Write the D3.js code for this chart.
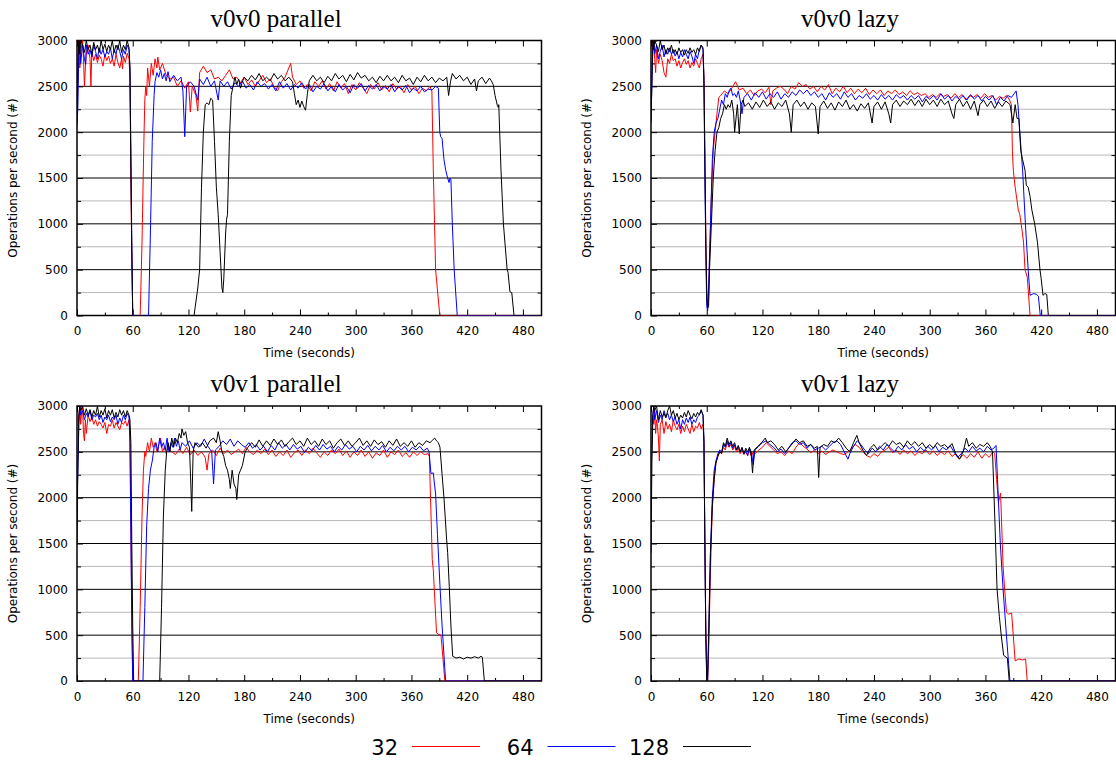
<!DOCTYPE html>
<html>
<head>
<meta charset="utf-8">
<script src="https://cdn.jsdelivr.net/npm/d3@7"></script>
<style>
  body { margin: 0; background: #fff; }
  svg { display: block; }
</style>
</head>
<body>
<svg width="1116" height="762"></svg>
<script>
// series values: [time (s), operations per second]
const p1_32 = [[0,2050],[1,2650],[2,3000],[3,2700],[4,2850],[5,2950],[6,3000],[7,2800],[8,2500],[9,2700],[10,2850],[12,2950],[14,2800],[15,2500],[16,2880],[18,2780],[20,2850],[22,2760],[24,2840],[26,2800],[28,2720],[30,2850],[32,2780],[34,2830],[36,2750],[38,2800],[40,2720],[42,2850],[44,2760],[46,2700],[48,2800],[49,2690],[50,2830],[52,2760],[54,2860],[56,2800],[57,2600],[58,1500],[59,600],[60,0],[68,0],[70,800],[72,1900],[73,2350],[74,2500],[75,2400],[76,2700],[78,2500],[80,2750],[82,2620],[84,2800],[86,2700],[87,2820],[89,2680],[92,2750],[96,2620],[100,2580],[104,2600],[108,2500],[112,2560],[116,2480],[120,2550],[122,2220],[124,2500],[128,2400],[130,2230],[132,2650],[136,2720],[140,2650],[144,2680],[148,2580],[152,2600],[156,2560],[160,2620],[164,2680],[168,2580],[172,2600],[176,2540],[180,2600],[184,2520],[188,2570],[192,2500],[196,2560],[200,2620],[204,2540],[208,2580],[212,2500],[216,2450],[220,2550],[224,2600],[228,2700],[230,2750],[232,2600],[236,2520],[240,2560],[244,2480],[248,2520],[252,2450],[256,2550],[260,2500],[264,2560],[268,2470],[272,2530],[276,2450],[280,2550],[284,2480],[288,2530],[292,2420],[296,2520],[300,2460],[304,2540],[308,2480],[312,2420],[316,2520],[320,2470],[324,2540],[328,2460],[332,2510],[336,2440],[340,2530],[344,2470],[348,2500],[352,2430],[356,2520],[360,2460],[364,2500],[368,2420],[372,2480],[376,2450],[380,2500],[382,2450],[383.5,1600],[386,500],[390.5,0],[500,0]];
const p1_64 = [[0,2050],[1,2300],[2,2900],[3,3000],[4,2750],[6,2950],[8,2800],[9.3,2740],[10,2950],[12,2850],[14,2900],[16,2820],[18,2950],[20,2880],[22,2800],[24,2920],[26,2850],[28,2900],[30,2820],[32,2880],[34,2850],[36,2920],[38,2800],[40,2900],[42,2850],[44,2950],[46,2880],[48,2800],[50,2900],[52,2850],[54,2950],[56,2900],[57,2700],[58,1800],[59,800],[60,0],[77,0],[79,900],[81,1900],[83,2400],[84,2550],[86,2650],[88,2600],[90,2680],[92,2580],[94,2640],[96,2560],[98,2660],[100,2550],[104,2620],[108,2560],[112,2600],[114,2450],[116,1950],[118,2500],[122,2550],[126,2500],[130,2350],[132,2580],[136,2520],[140,2600],[144,2500],[148,2560],[152,2350],[154,2560],[158,2500],[162,2550],[166,2470],[170,2540],[174,2500],[178,2560],[182,2480],[186,2520],[190,2460],[194,2550],[198,2500],[202,2530],[206,2470],[210,2520],[214,2450],[218,2550],[222,2480],[226,2530],[230,2460],[234,2520],[238,2480],[242,2540],[246,2470],[250,2520],[254,2440],[258,2500],[262,2470],[266,2530],[270,2450],[274,2500],[278,2440],[282,2520],[286,2460],[290,2500],[294,2430],[298,2520],[302,2480],[306,2530],[310,2450],[314,2510],[318,2470],[322,2520],[326,2450],[330,2500],[334,2470],[338,2520],[342,2440],[346,2500],[350,2460],[354,2510],[358,2430],[362,2480],[366,2450],[370,2500],[374,2440],[378,2470],[382,2460],[386,2500],[389,2480],[390.5,2000],[391.5,1950],[393,1930],[395,1700],[397,1580],[399,1500],[400.5,1450],[401.5,1500],[402.5,1480],[404,1000],[406,500],[409.3,0],[500,0]];
const p1_128 = [[0,2100],[1,2800],[2,3000],[3,2850],[4,3000],[6,2950],[8,2870],[10,3000],[12,2900],[14,2950],[16,2850],[18,2980],[20,2900],[22,2950],[24,2870],[26,3000],[28,2900],[30,2960],[32,2880],[34,2950],[36,2900],[38,3000],[40,2870],[42,2950],[44,2900],[46,3000],[48,2870],[50,2950],[52,2900],[54,3000],[56,2920],[57,2700],[58,1600],[59,700],[60,0],[126,0],[130,300],[132,500],[134,1400],[136,2000],[138,2300],[140,2320],[142,2300],[144,2370],[146,2350],[148,1900],[150,1400],[152,1100],[154,700],[156,300],[157,250],[158,400],[160,900],[161,1050],[162,1100],[164,1900],[166,2400],[168,2500],[170,2600],[172,2520],[174,2580],[176,2480],[178,2550],[180,2600],[184,2560],[188,2620],[192,2570],[196,2640],[200,2560],[204,2600],[208,2560],[212,2640],[216,2580],[220,2620],[224,2560],[228,2600],[232,2550],[234,2420],[236,2300],[238,2350],[240,2270],[242,2340],[244,2280],[246,2240],[248,2420],[250,2560],[254,2620],[258,2560],[262,2600],[266,2540],[270,2610],[274,2560],[278,2640],[282,2580],[286,2620],[290,2550],[294,2630],[298,2570],[302,2650],[306,2590],[310,2620],[314,2560],[318,2600],[322,2540],[326,2610],[330,2560],[334,2620],[338,2560],[342,2600],[346,2540],[350,2620],[354,2560],[358,2590],[362,2520],[366,2600],[370,2550],[374,2620],[378,2560],[382,2600],[386,2540],[390,2590],[394,2560],[398,2600],[400,2400],[402,2550],[404,2640],[408,2580],[412,2620],[416,2560],[420,2600],[424,2520],[428,2580],[430,2450],[432,2560],[436,2600],[440,2530],[444,2590],[446,2560],[448,2520],[450,2400],[452.5,2290],[453.5,2270],[454,2300],[456.4,1585],[459,1000],[463,500],[464,470],[466,260],[468,250],[470.4,0],[500,0]];

const p2_32 = [[0,2300],[1,2700],[2,3000],[3,2950],[4,2800],[5,2650],[6,2900],[8,2750],[10,2850],[12,2780],[14,2650],[16,2600],[18,2800],[20,2750],[22,2850],[24,2780],[26,2800],[28,2720],[30,2780],[32,2700],[34,2760],[36,2800],[38,2740],[40,2780],[42,2700],[44,2760],[46,2720],[48,2800],[50,2750],[52,2700],[54,2800],[56,2850],[57,2600],[58,1800],[59,900],[60,300],[61,100],[62,200],[63,600],[65,1300],[67,1800],[69,2000],[71,2200],[73,2380],[75,2400],[79,2450],[83,2420],[87,2480],[91,2550],[95,2460],[99,2480],[103,2420],[107,2460],[111,2400],[115,2450],[119,2470],[123,2430],[127,2490],[129,2300],[131,2450],[135,2480],[139,2500],[143,2470],[147,2420],[151,2500],[155,2470],[159,2540],[163,2500],[167,2520],[171,2470],[175,2500],[179,2440],[183,2500],[187,2460],[191,2520],[195,2420],[199,2480],[203,2440],[207,2500],[211,2430],[215,2480],[219,2420],[223,2470],[227,2430],[231,2480],[235,2410],[239,2460],[243,2420],[247,2460],[251,2400],[255,2450],[259,2420],[263,2460],[267,2410],[271,2440],[275,2400],[279,2450],[283,2410],[287,2430],[291,2400],[295,2420],[299,2380],[303,2410],[307,2380],[311,2420],[315,2390],[319,2410],[323,2370],[327,2420],[331,2380],[335,2410],[339,2350],[343,2400],[347,2380],[351,2410],[355,2370],[359,2420],[363,2380],[367,2400],[371,2350],[375,2390],[379,2370],[383,2400],[386,2350],[388,2300],[389,1800],[390,1585],[392,1400],[395.4,1150],[397,1100],[399.4,930],[401,800],[402.6,500],[405,420],[408,0],[500,0]];
const p2_64 = [[0,2150],[1,2500],[2,2900],[3,3000],[4,2850],[6,2950],[8,2800],[10,2880],[12,2950],[14,2820],[16,2900],[18,2850],[20,2920],[22,2850],[24,2900],[26,2830],[28,2880],[30,2800],[32,2870],[34,2820],[36,2900],[38,2850],[40,2800],[42,2880],[44,2830],[46,2750],[48,2850],[50,2800],[52,2900],[54,2950],[56,2900],[57,2500],[58,1500],[59,700],[60,100],[61,50],[62,300],[64,1000],[66,1700],[68,2000],[70,2100],[72,2150],[74,2250],[76,2350],[78,2300],[80,2420],[82,2380],[84,2450],[86,2480],[88,2400],[90,2420],[92,2380],[94,2450],[96,2350],[98,2200],[100,2380],[104,2420],[108,2350],[112,2430],[116,2380],[120,2440],[124,2360],[128,2420],[132,2380],[136,2440],[140,2360],[144,2420],[148,2380],[152,2440],[156,2400],[160,2460],[164,2420],[168,2460],[172,2400],[176,2440],[180,2380],[184,2420],[188,2350],[192,2430],[196,2380],[200,2420],[204,2360],[208,2440],[212,2380],[216,2420],[220,2350],[224,2400],[228,2370],[232,2420],[236,2360],[240,2400],[244,2350],[248,2410],[252,2360],[256,2400],[260,2350],[264,2410],[268,2370],[272,2400],[276,2350],[280,2400],[284,2360],[288,2400],[292,2330],[296,2390],[300,2360],[304,2400],[308,2350],[312,2420],[316,2360],[320,2400],[324,2340],[328,2390],[332,2360],[336,2400],[340,2350],[344,2410],[348,2360],[352,2400],[356,2340],[360,2390],[364,2350],[368,2400],[372,2300],[376,2380],[380,2340],[384,2400],[388,2380],[391,2420],[393,2450],[395,2300],[397,2000],[400,1585],[403,1000],[406,500],[408,220],[412,240],[415,230],[417,210],[419,0],[500,0]];
const p2_128 = [[0,2100],[1,2600],[2,3000],[3,2900],[4,3000],[6,2950],[8,2880],[10,3000],[12,2900],[14,2950],[16,2850],[18,2920],[20,2880],[22,2950],[24,2860],[26,2900],[28,2850],[30,2920],[32,2870],[34,2900],[36,2840],[38,2900],[40,2860],[42,2920],[44,2870],[46,2900],[48,2850],[50,2920],[52,2880],[54,2950],[56,2920],[57,2600],[58,1700],[59,800],[60,200],[61,80],[62,100],[63,500],[65,1000],[67,1500],[69,1800],[71,2000],[73,2050],[75,2150],[77,2200],[79,2300],[81,2250],[83,2300],[85,2270],[87,2350],[89,2200],[90,2000],[91,2100],[93,2300],[95,1980],[97,2300],[99,2350],[101,2280],[105,2320],[109,2250],[113,2330],[117,2270],[121,2350],[125,2280],[129,2330],[133,2250],[137,2320],[141,2280],[145,2350],[149,2200],[151,2000],[153,2300],[157,2350],[161,2280],[165,2330],[169,2250],[173,2320],[177,2280],[180,1980],[182,2280],[186,2340],[190,2260],[194,2320],[198,2240],[202,2330],[206,2280],[210,2350],[214,2250],[218,2300],[222,2230],[226,2310],[230,2260],[234,2320],[238,2100],[240,2280],[244,2330],[248,2250],[252,2330],[256,2200],[258,2100],[260,2300],[264,2350],[268,2280],[272,2340],[276,2300],[280,2360],[284,2290],[288,2350],[292,2280],[296,2360],[300,2300],[304,2350],[308,2280],[312,2360],[316,2300],[320,2340],[324,2200],[326,2150],[328,2300],[332,2360],[336,2280],[340,2340],[344,2250],[348,2340],[352,2180],[354,2300],[358,2350],[362,2280],[366,2340],[370,2260],[374,2330],[378,2280],[382,2340],[386.5,2300],[389.5,2100],[392,2300],[394,2150],[396,2150],[398,1800],[400,1700],[402.6,1585],[404,1420],[406,1400],[408,1300],[410,1150],[413,1000],[416,800],[418.7,500],[420,400],[422,220],[424,240],[426,230],[427.7,0],[500,0]];

const p3_32 = [[0,2000],[1,2700],[2,2900],[3,3000],[4,2800],[5,2950],[6,3000],[7,2700],[8,2620],[9,2850],[10,2700],[12,2900],[14,2830],[16,2880],[18,2800],[20,2850],[22,2780],[24,2830],[26,2800],[28,2760],[30,2820],[32,2700],[34,2800],[36,2780],[38,2850],[40,2760],[42,2820],[44,2780],[46,2740],[48,2820],[50,2800],[52,2840],[54,2780],[56,2850],[57,2700],[58,1700],[59,700],[60,0],[66,0],[68,800],[70,1800],[71.5,2300],[73,2500],[74,2450],[76,2600],[78,2500],[80,2650],[82,2550],[84,2600],[86,2500],[88,2580],[90,2650],[92,2500],[94,2550],[96,2480],[98,2550],[102,2500],[106,2470],[110,2530],[114,2480],[118,2550],[122,2470],[126,2520],[130,2460],[134,2500],[138,2440],[140,2300],[142,2480],[146,2520],[150,2460],[154,2540],[158,2480],[162,2520],[166,2470],[170,2500],[174,2530],[178,2480],[182,2550],[186,2500],[190,2470],[194,2520],[198,2480],[202,2530],[206,2470],[210,2520],[214,2450],[218,2500],[222,2460],[226,2520],[230,2440],[234,2490],[238,2520],[242,2460],[246,2520],[250,2480],[254,2540],[258,2490],[262,2440],[266,2500],[270,2460],[274,2520],[278,2480],[282,2530],[286,2460],[290,2510],[294,2440],[298,2500],[302,2460],[306,2520],[310,2450],[314,2500],[318,2430],[322,2490],[326,2460],[330,2520],[334,2440],[338,2500],[342,2470],[346,2520],[350,2450],[354,2490],[358,2440],[362,2500],[366,2460],[370,2500],[374,2470],[378,2480],[379.3,2450],[382.4,1325],[383.5,1216],[387,526],[389,510],[391.8,500],[396,0],[500,0]];
const p3_64 = [[0,2000],[1,2300],[2,2800],[3,3000],[4,2900],[6,2950],[8,2850],[10,2920],[12,2880],[14,2950],[16,2850],[18,2900],[20,2880],[22,2920],[24,2850],[26,2900],[28,2820],[30,2880],[32,2850],[34,2900],[36,2830],[38,2880],[40,2850],[42,2900],[44,2800],[46,2870],[48,2820],[50,2900],[52,2850],[54,2920],[56,2880],[57,2600],[58,1600],[59,600],[60,0],[71,0],[73,800],[75,1700],[77,2100],[79,2300],[81,2400],[83,2550],[85,2600],[87,2500],[89,2650],[91,2550],[93,2600],[95,2520],[97,2650],[99,2500],[101,2600],[103,2550],[105,2650],[107,2560],[109,2620],[111,2520],[113,2600],[117,2560],[121,2620],[125,2540],[129,2600],[133,2560],[137,2640],[141,2560],[145,2500],[147,2150],[149,2520],[153,2560],[157,2620],[161,2580],[165,2640],[169,2560],[173,2620],[177,2580],[181,2550],[185,2600],[189,2540],[193,2580],[197,2520],[201,2560],[205,2500],[209,2570],[213,2520],[217,2600],[221,2540],[225,2580],[229,2520],[233,2580],[237,2530],[241,2560],[245,2490],[249,2550],[253,2510],[257,2570],[261,2520],[265,2580],[269,2530],[273,2560],[277,2500],[281,2560],[285,2520],[289,2580],[293,2530],[297,2560],[301,2500],[305,2560],[309,2520],[313,2570],[317,2510],[321,2560],[325,2520],[329,2570],[333,2500],[337,2550],[341,2510],[345,2560],[349,2520],[353,2560],[357,2500],[361,2550],[365,2520],[369,2560],[373,2510],[377,2540],[379,2500],[381,2264],[383.5,2270],[386,2040],[388,1600],[390.7,1040],[393,600],[396.8,0],[500,0]];
const p3_128 = [[0,1500],[1,2400],[2,2900],[3,3000],[4,2950],[6,3000],[8,2900],[10,2970],[12,2900],[14,2960],[16,2880],[18,2950],[20,2900],[22,3000],[24,2880],[26,2950],[28,2900],[30,2970],[32,2870],[34,2950],[36,2900],[38,2960],[40,2870],[42,2930],[44,2880],[46,2960],[48,2900],[50,2950],[52,2880],[54,2950],[56,2900],[57,2850],[58,2600],[59,1500],[60,600],[61,0],[89,0],[91,800],[93,1800],[95,2300],[96.5,2500],[98,2600],[100,2500],[102,2650],[104,2550],[106,2650],[108,2600],[110,2700],[112,2650],[113,2750],[115,2680],[117,2720],[119,2600],[121,2550],[122,2300],[123.5,1850],[125,2500],[127,2600],[131,2550],[135,2600],[139,2540],[143,2620],[147,2650],[150,2600],[152,2720],[154,2620],[156,2500],[158,2450],[160,2350],[162,2300],[164,2200],[165,2100],[167,2300],[169,2150],[171,2100],[172,1980],[174,2250],[176,2300],[178,2350],[181,2500],[184,2550],[188,2600],[192,2550],[196,2630],[200,2560],[204,2620],[208,2570],[212,2640],[216,2580],[220,2630],[224,2560],[228,2610],[232,2650],[236,2580],[240,2620],[244,2560],[248,2650],[252,2580],[256,2620],[260,2560],[264,2640],[268,2580],[272,2620],[276,2540],[280,2600],[284,2640],[288,2570],[292,2620],[296,2560],[300,2600],[304,2650],[308,2570],[312,2620],[316,2560],[320,2630],[324,2580],[328,2610],[332,2550],[336,2620],[340,2570],[344,2640],[348,2560],[352,2600],[356,2560],[360,2620],[364,2550],[368,2600],[372,2570],[376,2620],[380,2600],[383,2630],[385,2650],[387,2620],[389,2600],[390.7,2550],[393,2250],[395,2000],[397.9,1540],[399,1400],[400.7,1034],[402.5,600],[404.4,270],[408,250],[412,260],[416,240],[420,260],[424,250],[428,265],[432,250],[435,270],[436.3,260],[438.5,0],[500,0]];

const p4_32 = [[0,2200],[1,2650],[2,2900],[3,2800],[4,2950],[5,2700],[6,2850],[7,2780],[8,2650],[9,2400],[10,2800],[12,2850],[14,2700],[16,2830],[18,2750],[20,2800],[22,2720],[24,2850],[26,2780],[28,2740],[30,2800],[32,2700],[34,2780],[36,2720],[38,2800],[40,2750],[42,2700],[44,2800],[46,2720],[48,2780],[50,2760],[52,2820],[54,2750],[56,2800],[57,2600],[58,1500],[59,600],[60,100],[61,0],[62,300],[64,1200],[66,1900],[68,2200],[70,2400],[72,2450],[74,2500],[76,2480],[78,2550],[80,2520],[82,2600],[84,2550],[86,2580],[88,2520],[90,2560],[92,2500],[94,2540],[96,2480],[98,2520],[100,2470],[102,2500],[104,2460],[106,2520],[108,2450],[110,2500],[112,2480],[116,2520],[120,2550],[124,2600],[128,2560],[132,2520],[136,2480],[140,2500],[144,2460],[148,2510],[152,2480],[156,2550],[160,2600],[164,2560],[168,2530],[172,2490],[176,2520],[180,2480],[184,2510],[188,2470],[192,2500],[196,2520],[200,2500],[204,2480],[208,2470],[212,2500],[216,2540],[220,2580],[224,2550],[228,2500],[232,2460],[236,2440],[240,2480],[244,2450],[248,2500],[252,2520],[256,2550],[260,2490],[264,2520],[268,2470],[272,2520],[276,2480],[280,2510],[284,2460],[288,2500],[292,2480],[296,2520],[300,2470],[304,2510],[308,2460],[312,2500],[316,2470],[320,2510],[324,2450],[328,2480],[332,2420],[336,2470],[340,2430],[344,2480],[348,2440],[352,2500],[356,2430],[360,2480],[364,2440],[368,2500],[370,2480],[372,2200],[374,1950],[376.3,2050],[379,1250],[380.7,1000],[382.6,750],[385,730],[388.2,740],[392,220],[396,240],[400,230],[403.2,240],[405,0],[500,0]];
const p4_64 = [[0,2200],[1,2600],[2,2900],[3,3000],[4,2850],[6,2950],[8,2820],[10,2900],[12,2850],[14,2950],[16,2880],[18,2920],[20,2850],[22,2900],[24,2830],[26,2880],[28,2800],[30,2850],[32,2750],[34,2850],[36,2800],[38,2870],[40,2820],[42,2880],[44,2800],[46,2850],[48,2820],[50,2880],[52,2900],[54,2950],[56,2900],[57,2650],[58,1500],[59,500],[60,50],[61,0],[62,400],[64,1400],[66,2000],[68,2300],[70,2400],[72,2480],[74,2520],[76,2500],[78,2580],[80,2550],[82,2620],[84,2560],[86,2600],[88,2540],[90,2580],[92,2520],[94,2560],[96,2500],[98,2540],[100,2480],[102,2520],[104,2460],[106,2540],[108,2500],[110,2360],[112,2520],[116,2560],[120,2600],[124,2620],[128,2580],[132,2550],[136,2500],[140,2530],[144,2480],[148,2540],[152,2600],[156,2620],[160,2580],[164,2600],[168,2540],[172,2580],[176,2520],[180,2540],[184,2560],[188,2520],[192,2560],[196,2600],[200,2620],[204,2580],[208,2500],[212,2420],[214,2480],[218,2560],[222,2620],[226,2580],[230,2520],[234,2480],[238,2540],[242,2500],[246,2560],[250,2520],[254,2580],[258,2540],[262,2500],[266,2560],[270,2520],[274,2580],[278,2530],[282,2560],[286,2500],[290,2550],[294,2510],[298,2560],[302,2520],[306,2570],[310,2500],[314,2550],[318,2520],[322,2570],[326,2500],[330,2440],[334,2480],[338,2540],[342,2500],[346,2560],[350,2510],[354,2540],[358,2500],[362,2560],[366,2520],[369,2540],[371.4,2570],[373,2200],[376,1500],[379,1000],[382.6,500],[386.4,0],[500,0]];
const p4_128 = [[0,1400],[1,2400],[2,2900],[3,3000],[4,2950],[6,3000],[8,2850],[10,2950],[12,2880],[14,2920],[16,2870],[18,2950],[20,3000],[22,2900],[24,2950],[26,2870],[28,2920],[30,2850],[32,2900],[34,2870],[36,2930],[38,2880],[40,2950],[42,2900],[44,2860],[46,2920],[48,2880],[50,2930],[52,2900],[54,2960],[56,2900],[57,2600],[58,1500],[59,500],[60,0],[61,100],[62,500],[64,1400],[66,1900],[68,2200],[70,2380],[72,2450],[74,2500],[76,2480],[78,2600],[80,2560],[82,2650],[84,2580],[86,2620],[88,2560],[90,2600],[92,2520],[94,2570],[96,2500],[98,2550],[100,2480],[102,2540],[104,2500],[106,2550],[108,2450],[109.3,2270],[111,2520],[115,2560],[119,2600],[123,2650],[125,2600],[129,2620],[133,2580],[137,2520],[141,2560],[145,2500],[149,2550],[153,2600],[156,2640],[160,2600],[164,2620],[168,2560],[172,2580],[176,2540],[179,2560],[180.5,2220],[182,2550],[186,2580],[190,2560],[194,2620],[198,2600],[202,2650],[206,2600],[210,2540],[214,2500],[218,2600],[221.6,2680],[224,2600],[228,2520],[232,2460],[236,2540],[240,2580],[244,2520],[248,2560],[252,2600],[256,2560],[260,2620],[264,2580],[268,2600],[272,2550],[276,2620],[280,2570],[284,2610],[288,2560],[292,2600],[296,2540],[300,2580],[304,2540],[308,2600],[312,2560],[316,2580],[320,2540],[324,2590],[328,2480],[332,2420],[336,2500],[339.6,2650],[342,2560],[346,2600],[350,2540],[354,2580],[358,2560],[362,2600],[365,2560],[367.6,2500],[370,1800],[372.5,1000],[375,700],[377,500],[379.6,280],[383.6,250],[385.6,0],[500,0]];

const panelTitles = ['v0v0 parallel', 'v0v0 lazy', 'v0v1 parallel', 'v0v1 lazy'];
const seriesNames = ['32', '64', '128'];
const xTicks = [0, 60, 120, 180, 240, 300, 360, 420, 480];
const yTicks = [0, 500, 1000, 1500, 2000, 2500, 3000];

const colors = ['#ff0000', '#0000ff', '#000000'];
const pw = 464.5, ph = 275;
const panels = [
  {title: panelTitles[0], series: [p1_32, p1_64, p1_128], left: 77, top: 40.5, titleX: 276},
  {title: panelTitles[1], series: [p2_32, p2_64, p2_128], left: 651, top: 40.5, titleX: 850},
  {title: panelTitles[2], series: [p3_32, p3_64, p3_128], left: 77, top: 406, titleX: 276},
  {title: panelTitles[3], series: [p4_32, p4_64, p4_128], left: 651, top: 406, titleX: 850}
];

const svg = d3.select('svg');
const sans = 'DejaVu Sans, Verdana, sans-serif';

panels.forEach((p, i) => {
  const x = d3.scaleLinear().domain([0, 500]).range([0, pw]);
  const y = d3.scaleLinear().domain([0, 3000]).range([ph, 0]);

  // title
  svg.append('text')
     .attr('x', p.titleX)
     .attr('y', p.top - 14)
     .attr('text-anchor', 'middle')
     .style('font-family', 'Liberation Serif, Times New Roman, serif')
     .style('font-size', '25px')
     .text(p.title);

  const g = svg.append('g').attr('transform', `translate(${p.left},${p.top})`);

  // horizontal grid, every 250
  g.selectAll('.grid')
   .data(d3.range(250, 3000, 250))
   .join('line')
   .attr('x1', 0).attr('x2', pw)
   .attr('y1', d => y(d)).attr('y2', d => y(d))
   .attr('stroke', d => d % 500 === 0 ? '#000' : '#b8b8b8')
   .attr('stroke-width', 1);

  // frame
  g.append('rect')
   .attr('width', pw).attr('height', ph)
   .attr('fill', 'none').attr('stroke', '#000').attr('stroke-width', 1.5);

  // axes
  let xAxis = d3.axisBottom(x).tickValues(xTicks).tickSizeInner(-6).tickSizeOuter(0).tickPadding(11);
  let xMinor = d3.axisBottom(x).tickValues(d3.range(30, 500, 60)).tickSize(-3).tickFormat('');
  let xTop = d3.axisTop(x).tickValues(xTicks).tickSize(-6).tickFormat('');
  let xTopMinor = d3.axisTop(x).tickValues(d3.range(30, 500, 60)).tickSize(-3).tickFormat('');
  let yAxis = d3.axisLeft(y).tickValues(yTicks).tickFormat(d3.format('d'))
                .tickSizeInner(-6).tickSizeOuter(0).tickPadding(9);
  let yMinor = d3.axisLeft(y).tickValues(d3.range(250, 3000, 500)).tickSize(-4).tickFormat('');
  let yRight = d3.axisRight(y).tickValues(d3.range(250, 3000, 500)).tickSize(-4).tickFormat('');

  g.append('g').attr('transform', `translate(0,${ph})`).call(xAxis);
  g.append('g').attr('transform', `translate(0,${ph})`).call(xMinor);
  g.append('g').call(xTop);
  g.append('g').call(xTopMinor);
  g.append('g').call(yAxis);
  g.append('g').call(yMinor);
  g.append('g').attr('transform', `translate(${pw},0)`).call(yRight);

  g.selectAll('.domain').remove();
  g.selectAll('.tick line').attr('stroke', '#000');
  g.selectAll('.tick text')
   .style('font-family', sans)
   .style('font-size', '12px')
   .attr('fill', '#000');

  // axis labels
  g.append('text')
   .attr('transform', `translate(-64,${ph / 2}) rotate(-90)`)
   .attr('text-anchor', 'middle')
   .attr('dy', '0.35em')
   .style('font-family', sans)
   .style('font-size', '12px')
   .text('Operations per second (#)');

  g.append('text')
   .attr('x', pw / 2)
   .attr('y', ph + 41.5)
   .attr('text-anchor', 'middle')
   .style('font-family', sans)
   .style('font-size', '12px')
   .text('Time (seconds)');

  // lines
  g.append('clipPath').attr('id', 'clip' + i)
   .append('rect').attr('x', 0).attr('y', -1).attr('width', pw).attr('height', ph + 1);

  let line = d3.line()
               .x(d => x(d[0]))
               .y(d => y(d[1]));

  p.series.forEach((s, j) => {
    g.append('path')
     .attr('d', line(s))
     .attr('clip-path', `url(#clip${i})`)
     .attr('fill', 'none')
     .attr('stroke', colors[j])
     .attr('stroke-width', 1);
  });
});

// legend
const legend = svg.append('g');
seriesNames.forEach((name, j) => {
  let xr = 398 + j * 135.5;
  legend.append('text')
        .attr('x', xr)
        .attr('y', 755)
        .attr('text-anchor', 'end')
        .style('font-family', sans)
        .style('font-size', '21px')
        .text(name);
  legend.append('line')
        .attr('x1', xr + 14).attr('x2', xr + 82)
        .attr('y1', 746.5).attr('y2', 746.5)
        .attr('stroke', colors[j])
        .attr('stroke-width', 1.2);
});
</script>
</body>
</html>
